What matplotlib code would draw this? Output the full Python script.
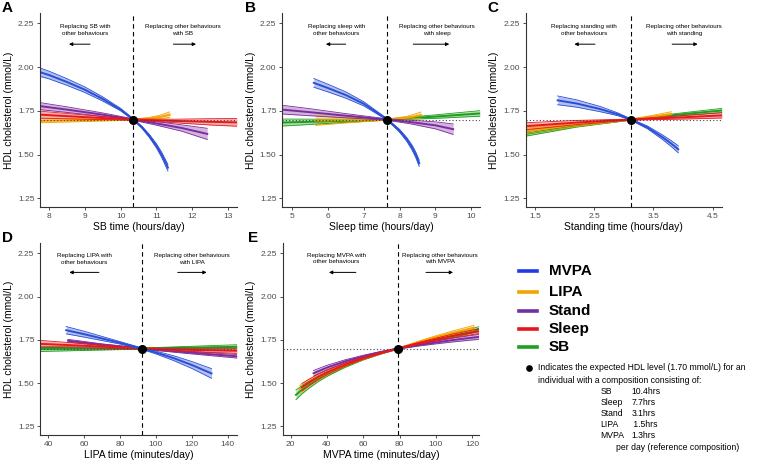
import numpy as np
import matplotlib
matplotlib.use("Agg")
from matplotlib import pyplot as plt
from matplotlib.lines import Line2D

plt.rcParams['font.family'] = ['Liberation Sans', 'DejaVu Sans']

# colours for each behaviour doing the replacing
c_mvpa = '#2a4fd6'
c_lipa = '#f5a300'
c_stand = '#7b2d9e'
c_sleep = '#e8181c'
c_sb = '#1e9e1e'

ref_hdl = 1.70
ref_sb, ref_sleep, ref_stand, ref_lipa, ref_mvpa = 10.36, 7.66, 3.12, 92, 79.2

# ---- panel A: SB time (hours/day)
sb_mvpa_x = [7.75, 8.0, 8.5, 9.0, 9.5, 10.0, 10.36, 10.6, 10.8, 11.0, 11.15, 11.32]
sb_mvpa_y = [1.971, 1.955, 1.915, 1.871, 1.818, 1.757, 1.70, 1.655, 1.607, 1.550, 1.497, 1.425]
sb_mvpa_ci = [0.024, 0.022, 0.019, 0.016, 0.012, 0.007, 0.004, 0.006, 0.009, 0.012, 0.015, 0.019]
sb_lipa_x = [7.75, 8.5, 9.5, 10.36, 10.8, 11.1, 11.37]
sb_lipa_y = [1.693, 1.695, 1.698, 1.70, 1.706, 1.715, 1.728]
sb_lipa_ci = [0.011, 0.009, 0.006, 0.003, 0.006, 0.010, 0.016]
sb_stand_x = [7.75, 8.5, 9.5, 10.36, 11.0, 11.7, 12.42]
sb_stand_y = [1.777, 1.757, 1.728, 1.70, 1.678, 1.652, 1.618]
sb_stand_ci = [0.020, 0.016, 0.010, 0.004, 0.010, 0.018, 0.032]
sb_sleep_x = [7.75, 9.0, 10.36, 11.5, 12.5, 13.25]
sb_sleep_y = [1.728, 1.714, 1.70, 1.692, 1.687, 1.684]
sb_sleep_ci = [0.020, 0.012, 0.003, 0.010, 0.018, 0.022]

# ---- panel B: sleep time (hours/day)
sleep_mvpa_x = [5.6, 6.0, 6.5, 7.0, 7.66, 8.0, 8.2, 8.35, 8.45, 8.55]
sleep_mvpa_y = [1.91, 1.88, 1.84, 1.79, 1.70, 1.636, 1.587, 1.54, 1.50, 1.45]
sleep_mvpa_ci = [0.025, 0.022, 0.018, 0.012, 0.004, 0.008, 0.011, 0.014, 0.016, 0.018]
sleep_lipa_x = [5.65, 6.5, 7.66, 8.2, 8.6]
sleep_lipa_y = [1.695, 1.697, 1.70, 1.71, 1.725]
sleep_lipa_ci = [0.028, 0.016, 0.003, 0.008, 0.018]
sleep_stand_x = [4.71, 5.5, 6.5, 7.66, 8.3, 9.0, 9.5]
sleep_stand_y = [1.757, 1.742, 1.722, 1.70, 1.686, 1.667, 1.645]
sleep_stand_ci = [0.025, 0.020, 0.012, 0.004, 0.010, 0.020, 0.030]
sleep_sb_x = [4.71, 6.0, 7.66, 9.0, 10.25]
sleep_sb_y = [1.683, 1.690, 1.70, 1.717, 1.735]
sleep_sb_ci = [0.020, 0.012, 0.003, 0.010, 0.016]

# ---- panel C: standing time (hours/day)
stand_mvpa_x = [1.88, 2.2, 2.6, 2.9, 3.12, 3.4, 3.65, 3.8, 3.92]
stand_mvpa_y = [1.81, 1.792, 1.76, 1.73, 1.70, 1.655, 1.60, 1.563, 1.53]
stand_mvpa_ci = [0.025, 0.021, 0.015, 0.008, 0.004, 0.008, 0.013, 0.017, 0.020]
stand_lipa_x = [1.34, 2.2, 3.12, 3.5, 3.8]
stand_lipa_y = [1.635, 1.671, 1.70, 1.717, 1.732]
stand_lipa_ci = [0.016, 0.010, 0.003, 0.008, 0.013]
stand_sleep_x = [1.34, 2.2, 3.12, 4.0, 4.66]
stand_sleep_y = [1.662, 1.683, 1.70, 1.713, 1.724]
stand_sleep_ci = [0.020, 0.012, 0.003, 0.010, 0.015]
stand_sb_x = [1.34, 2.2, 3.12, 4.0, 4.66]
stand_sb_y = [1.618, 1.665, 1.70, 1.731, 1.752]
stand_sb_ci = [0.013, 0.008, 0.003, 0.008, 0.012]

# ---- panel D: LIPA time (minutes/day)
lipa_mvpa_x = [50, 60, 70, 80, 92, 100, 110, 120, 131]
lipa_mvpa_y = [1.806, 1.783, 1.758, 1.733, 1.70, 1.677, 1.644, 1.605, 1.556]
lipa_mvpa_ci = [0.021, 0.017, 0.012, 0.007, 0.004, 0.008, 0.014, 0.020, 0.028]
lipa_stand_x = [51, 70, 92, 120, 145.2]
lipa_stand_y = [1.745, 1.722, 1.70, 1.676, 1.655]
lipa_stand_ci = [0.008, 0.005, 0.003, 0.007, 0.010]
lipa_sleep_x = [35.4, 60, 92, 120, 145.2]
lipa_sleep_y = [1.727, 1.716, 1.70, 1.692, 1.687]
lipa_sleep_ci = [0.020, 0.012, 0.003, 0.010, 0.015]
lipa_sb_x = [35.4, 60, 92, 120, 145.2]
lipa_sb_y = [1.698, 1.699, 1.70, 1.705, 1.71]
lipa_sb_ci = [0.015, 0.010, 0.003, 0.008, 0.012]

# ---- panel E: MVPA time (minutes/day)
mvpa_sb_x = [22.9, 26, 30, 35, 40, 50, 60, 70, 79.2, 90, 100, 110, 123.5]
mvpa_sb_y = [1.432, 1.46, 1.49, 1.523, 1.552, 1.60, 1.64, 1.673, 1.70, 1.728, 1.753, 1.777, 1.812]
mvpa_sb_ci = [0.028, 0.024, 0.020, 0.016, 0.013, 0.009, 0.006, 0.004, 0.003, 0.005, 0.008, 0.011, 0.014]
mvpa_sleep_x = [26.2, 30, 35, 40, 50, 60, 70, 79.2, 90, 100, 110, 123.5]
mvpa_sleep_y = [1.476, 1.503, 1.535, 1.562, 1.607, 1.644, 1.675, 1.70, 1.729, 1.752, 1.774, 1.80]
mvpa_sleep_ci = [0.022, 0.019, 0.016, 0.013, 0.009, 0.006, 0.004, 0.003, 0.005, 0.008, 0.011, 0.014]
mvpa_lipa_x = [25, 30, 35, 40, 50, 60, 70, 79.2, 90, 100, 110, 121]
mvpa_lipa_y = [1.465, 1.502, 1.533, 1.561, 1.606, 1.643, 1.675, 1.70, 1.736, 1.766, 1.793, 1.82]
mvpa_lipa_ci = [0.022, 0.019, 0.016, 0.013, 0.009, 0.006, 0.004, 0.003, 0.005, 0.008, 0.011, 0.014]
mvpa_stand_x = [32.6, 40, 50, 60, 70, 79.2, 90, 100, 110, 123.5]
mvpa_stand_y = [1.557, 1.59, 1.626, 1.655, 1.68, 1.70, 1.719, 1.735, 1.75, 1.767]
mvpa_stand_ci = [0.016, 0.013, 0.009, 0.006, 0.004, 0.003, 0.005, 0.008, 0.011, 0.014]

legend_names = ['MVPA', 'LIPA', 'Stand', 'Sleep', 'SB']
legend_colors = ['#1f3be8', '#f5a300', '#7030a0', '#e8141c', '#1ea01e']
comp_names = ['SB', 'Sleep', 'Stand', 'LIPA', 'MVPA']
comp_values = ['10.4hrs', '7.7hrs', '3.1hrs', ' 1.5hrs', '1.3hrs']


def draw_curve(ax, x, y, ci, color):
    x = np.array(x)
    y = np.array(y)
    ci = np.array(ci)
    ax.fill_between(x, y - ci, y + ci, color=color, alpha=0.35, lw=0)
    ax.plot(x, y - ci, color=color, lw=0.6)
    ax.plot(x, y + ci, color=color, lw=0.6)
    ax.plot(x, y, color=color, lw=1.4)


def panel(rect, xlim, xticks, xticklabels, xlabel, ref_x, curves, who, tpos):
    ax = fig.add_axes(rect)
    for x, y, ci, col in curves:
        draw_curve(ax, x, y, ci, col)
    ax.axhline(ref_hdl, color='#444444', ls=(0, (1, 2)), lw=0.8, zorder=5)
    ax.axvline(ref_x, color='black', ls=(0, (4, 3)), lw=0.8, zorder=5)
    ax.plot(ref_x, ref_hdl, 'o', color='black', ms=5.5, zorder=10)
    ax.set_xlim(xlim)
    ax.set_ylim(1.2, 2.31)
    ax.set_xticks(xticks)
    ax.set_xticklabels(xticklabels)
    ax.set_yticks([1.25, 1.50, 1.75, 2.00, 2.25])
    ax.set_yticklabels(['1.25', '1.50', '1.75', '2.00', '2.25'])
    ax.tick_params(labelsize=6, labelcolor='#4d4d4d', color='#333333',
                   length=2.5, width=0.6, pad=1.5)
    for s in ['top', 'right']:
        ax.spines[s].set_visible(False)
    for s in ['left', 'bottom']:
        ax.spines[s].set_linewidth(0.8)
        ax.spines[s].set_color('#333333')
    ax.set_xlabel(xlabel, fontsize=7.5, labelpad=2)
    ax.set_ylabel('HDL cholesterol (mmol/L)', fontsize=7.5, labelpad=3)

    lc, rc, lt, lh, rt, rh, ty, ay = tpos
    ax.text(lc, ty, 'Replacing %s with\nother behaviours' % who, transform=ax.transAxes,
            ha='center', va='center', fontsize=4.5, linespacing=1.35)
    ax.text(rc, ty, 'Replacing other behaviours\nwith %s' % who, transform=ax.transAxes,
            ha='center', va='center', fontsize=4.5, linespacing=1.35)
    arrow = dict(arrowstyle='-|>', color='black', lw=0.7, mutation_scale=5,
                 shrinkA=0, shrinkB=0)
    ax.annotate('', xy=(lh, ay), xytext=(lt, ay), xycoords='axes fraction', arrowprops=arrow)
    ax.annotate('', xy=(rh, ay), xytext=(rt, ay), xycoords='axes fraction', arrowprops=arrow)
    return ax


fig = plt.figure(figsize=(7.65, 4.62), dpi=100)

panel([0.0523, 0.552, 0.2575, 0.42], (7.75, 13.25), [8, 9, 10, 11, 12, 13],
      ['8', '9', '10', '11', '12', '13'], 'SB time (hours/day)', ref_sb,
      [(sb_lipa_x, sb_lipa_y, sb_lipa_ci, c_lipa),
       (sb_stand_x, sb_stand_y, sb_stand_ci, c_stand),
       (sb_sleep_x, sb_sleep_y, sb_sleep_ci, c_sleep),
       (sb_mvpa_x, sb_mvpa_y, sb_mvpa_ci, c_mvpa)],
      'SB', (0.228, 0.724, 0.254, 0.147, 0.677, 0.792, 0.912, 0.839))

panel([0.3686, 0.552, 0.2588, 0.42], (4.71, 10.25), [5, 6, 7, 8, 9, 10],
      ['5', '6', '7', '8', '9', '10'], 'Sleep time (hours/day)', ref_sleep,
      [(sleep_sb_x, sleep_sb_y, sleep_sb_ci, c_sb),
       (sleep_lipa_x, sleep_lipa_y, sleep_lipa_ci, c_lipa),
       (sleep_stand_x, sleep_stand_y, sleep_stand_ci, c_stand),
       (sleep_mvpa_x, sleep_mvpa_y, sleep_mvpa_ci, c_mvpa)],
      'sleep', (0.276, 0.781, 0.322, 0.222, 0.663, 0.845, 0.912, 0.839))

panel([0.6872, 0.552, 0.2566, 0.42], (1.34, 4.66), [1.5, 2.5, 3.5, 4.5],
      ['1.5', '2.5', '3.5', '4.5'], 'Standing time (hours/day)', ref_stand,
      [(stand_sb_x, stand_sb_y, stand_sb_ci, c_sb),
       (stand_lipa_x, stand_lipa_y, stand_lipa_ci, c_lipa),
       (stand_sleep_x, stand_sleep_y, stand_sleep_ci, c_sleep),
       (stand_mvpa_x, stand_mvpa_y, stand_mvpa_ci, c_mvpa)],
      'standing', (0.297, 0.806, 0.353, 0.248, 0.746, 0.876, 0.912, 0.839))

panel([0.0523, 0.0584, 0.2575, 0.4156], (35.4, 145.2), [40, 60, 80, 100, 120, 140],
      ['40', '60', '80', '100', '120', '140'], 'LIPA time (minutes/day)', ref_lipa,
      [(lipa_sb_x, lipa_sb_y, lipa_sb_ci, c_sb),
       (lipa_stand_x, lipa_stand_y, lipa_stand_ci, c_stand),
       (lipa_sleep_x, lipa_sleep_y, lipa_sleep_ci, c_sleep),
       (lipa_mvpa_x, lipa_mvpa_y, lipa_mvpa_ci, c_mvpa)],
      'LIPA', (0.225, 0.773, 0.299, 0.149, 0.699, 0.846, 0.916, 0.847))

panel([0.3695, 0.0584, 0.2566, 0.4156], (15.6, 123.7), [20, 40, 60, 80, 100, 120],
      ['20', '40', '60', '80', '100', '120'], 'MVPA time (minutes/day)', ref_mvpa,
      [(mvpa_sb_x, mvpa_sb_y, mvpa_sb_ci, c_sb),
       (mvpa_lipa_x, mvpa_lipa_y, mvpa_lipa_ci, c_lipa),
       (mvpa_stand_x, mvpa_stand_y, mvpa_stand_ci, c_stand),
       (mvpa_sleep_x, mvpa_sleep_y, mvpa_sleep_ci, c_sleep)],
      'MVPA', (0.272, 0.801, 0.373, 0.236, 0.73, 0.868, 0.92, 0.847))

# overlay in pixel coordinates for letters, legend and note
ov = fig.add_axes([0, 0, 1, 1])
ov.set_xlim(0, 765)
ov.set_ylim(462, 0)
ov.axis('off')

for letter, lx, ly in [('A', 2, 1), ('B', 245, 1), ('C', 487, 1), ('D', 2, 231), ('E', 248, 231)]:
    ov.text(lx, ly, letter, fontsize=11, fontweight='bold', ha='left', va='top')

leg_y = [271, 292, 310.7, 329, 347.3]
for name, col, yy in zip(legend_names, legend_colors, leg_y):
    ov.add_line(Line2D([519, 537], [yy, yy], color=col, lw=2.6))
    ov.text(549, yy, name, fontsize=11, fontweight='bold', ha='left', va='center')

ov.plot(529, 368, 'o', color='black', ms=3.8)
ov.text(538, 368, 'Indicates the expected HDL level (1.70 mmol/L) for an',
        fontsize=6.2, ha='left', va='center')
ov.text(538, 380.5, 'individual with a composition consisting of:',
        fontsize=6.2, ha='left', va='center')
comp_y = [391, 402.5, 413.5, 424.5, 435.5]
for name, val, yy in zip(comp_names, comp_values, comp_y):
    ov.text(600.5, yy, name, fontsize=6.2, ha='left', va='center')
    ov.text(631.5, yy, val, fontsize=6.2, ha='left', va='center')
ov.text(616, 448, 'per day (reference composition)', fontsize=6.2, ha='left', va='center')

fig.savefig('out.png', dpi=100)
